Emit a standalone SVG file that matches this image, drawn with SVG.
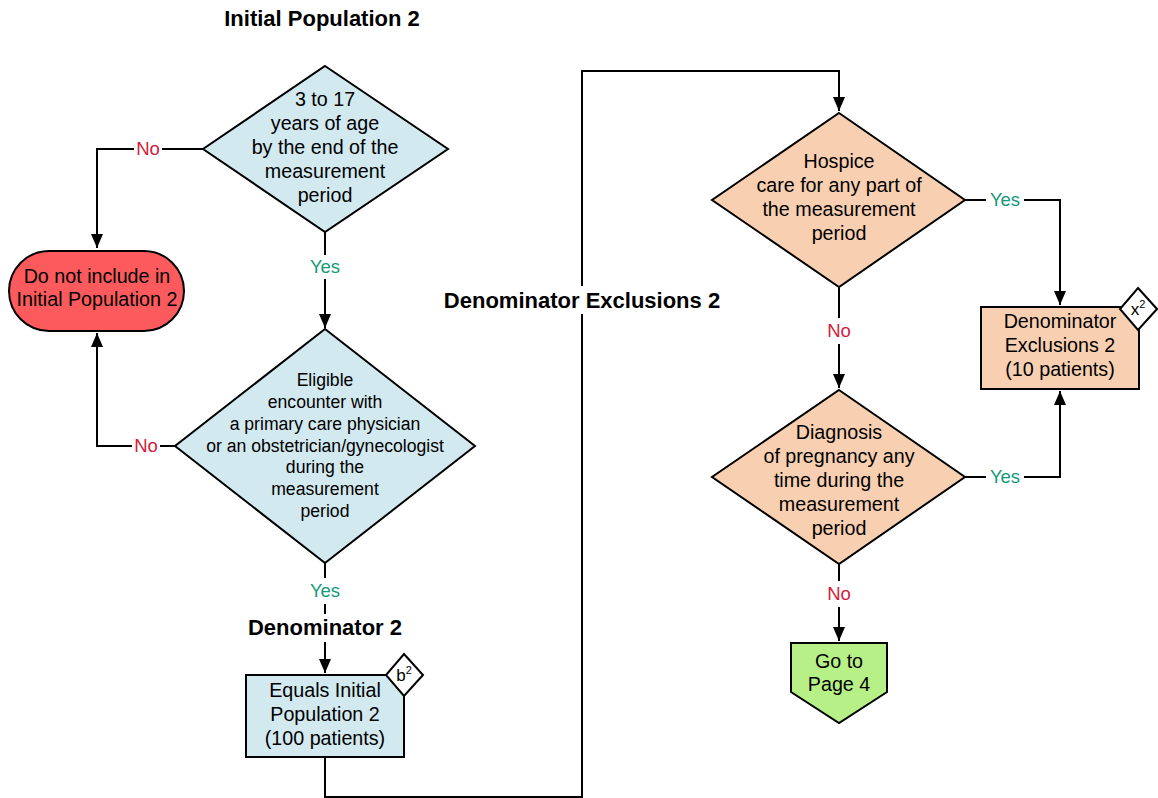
<svg xmlns="http://www.w3.org/2000/svg" width="1158" height="798" viewBox="0 0 1158 798">
<style>
text{font-family:"Liberation Sans",Arial,sans-serif;fill:#000;text-anchor:middle}
.t18{font-size:19.7px}
.t16{font-size:17.6px}
.bd{font-size:17px}
.h{font-size:22px;font-weight:bold}
.yes{fill:#129a7a;font-size:18.5px}
.no{fill:#d0213a;font-size:18.5px}
.blue{fill:#d2e9ef;stroke:#000;stroke-width:2}
.peach{fill:#f8cfb0;stroke:#000;stroke-width:2}
.red{fill:#fc5a5c;stroke:#000;stroke-width:2}
.green{fill:#b8f088;stroke:#000;stroke-width:2}
.badge{fill:#fff;stroke:#000;stroke-width:2}
.ln{fill:none;stroke:#000;stroke-width:2}
.bg{fill:#fff}
</style>
<defs>
<marker id="arr" markerUnits="userSpaceOnUse" markerWidth="14" markerHeight="16" refX="14" refY="6" orient="auto">
<path d="M0,0 L14,6 L0,12 Z" fill="#000"/>
</marker>
</defs>
<g id="connectors">
<path class="ln" d="M203,149 H97 V248" marker-end="url(#arr)"/>
<path class="ln" d="M325,232 V328" marker-end="url(#arr)"/>
<path class="ln" d="M175,446 H97 V333" marker-end="url(#arr)"/>
<path class="ln" d="M325,563 V673" marker-end="url(#arr)"/>
<path class="ln" d="M325,757 V797 H582 V71 H839 V111" marker-end="url(#arr)"/>
<path class="ln" d="M965,200 H1060 V305" marker-end="url(#arr)"/>
<path class="ln" d="M839,287 V388" marker-end="url(#arr)"/>
<path class="ln" d="M965,477 H1060 V391" marker-end="url(#arr)"/>
<path class="ln" d="M839,564 V641" marker-end="url(#arr)"/>
<rect class="bg" x="134" y="139" width="28" height="20"/>
<text class="no" x="148" y="155">No</text>
<rect class="bg" x="307" y="255" width="36" height="24"/>
<text class="yes" x="325" y="273">Yes</text>
<rect class="bg" x="132" y="436" width="28" height="20"/>
<text class="no" x="146" y="452">No</text>
<rect class="bg" x="307" y="578" width="36" height="26"/>
<text class="yes" x="325" y="597">Yes</text>
<rect class="bg" x="236" y="614" width="178" height="28"/>
<text class="h" x="325" y="635">Denominator 2</text>
<rect class="bg" x="440" y="286" width="284" height="28"/>
<text class="h" x="582" y="308">Denominator Exclusions 2</text>
<rect class="bg" x="986" y="190" width="38" height="20"/>
<text class="yes" x="1005" y="206">Yes</text>
<rect class="bg" x="825" y="318" width="28" height="26"/>
<text class="no" x="839" y="337">No</text>
<rect class="bg" x="986" y="467" width="38" height="20"/>
<text class="yes" x="1005" y="483">Yes</text>
<rect class="bg" x="825" y="581" width="28" height="26"/>
<text class="no" x="839" y="600">No</text>
</g>
<text class="h" x="322" y="26">Initial Population 2</text>
<g id="age">
<polygon class="blue" points="325,66 448,149 325,232 203,149"/>
<text class="t18"><tspan x="325" y="106">3 to 17</tspan><tspan x="325" y="130">years of age</tspan><tspan x="325" y="154">by the end of the</tspan><tspan x="325" y="178">measurement</tspan><tspan x="325" y="202">period</tspan></text>
</g>
<g id="exclude">
<rect class="red" x="9" y="251" width="175" height="80" rx="40" ry="40"/>
<text class="t18"><tspan x="97" y="283">Do not include in</tspan><tspan x="97" y="306">Initial Population 2</tspan></text>
</g>
<g id="encounter">
<polygon class="blue" points="325,329 475,446 325,563 175,446"/>
<text class="t16"><tspan x="325" y="386">Eligible</tspan><tspan x="325" y="408">encounter with</tspan><tspan x="325" y="430">a primary care physician</tspan><tspan x="325" y="452">or an obstetrician/gynecologist</tspan><tspan x="325" y="473">during the</tspan><tspan x="325" y="495">measurement</tspan><tspan x="325" y="517">period</tspan></text>
</g>
<g id="denominator">
<rect class="blue" x="246" y="675" width="158" height="82"/>
<text class="t18"><tspan x="325" y="697">Equals Initial</tspan><tspan x="325" y="721">Population 2</tspan><tspan x="325" y="745">(100 patients)</tspan></text>
<polygon class="badge" points="404,654 423,675 404,696 386,675"/>
<text class="bd" x="404" y="681">b<tspan font-size="11" dy="-7">2</tspan></text>
</g>
<g id="hospice">
<polygon class="peach" points="839,113 965,200 839,287 712,200"/>
<text class="t18"><tspan x="839" y="168">Hospice</tspan><tspan x="839" y="192">care for any part of</tspan><tspan x="839" y="216">the measurement</tspan><tspan x="839" y="240">period</tspan></text>
</g>
<g id="exclusions">
<rect class="peach" x="981" y="307" width="158" height="82"/>
<text class="t18"><tspan x="1060" y="328">Denominator</tspan><tspan x="1060" y="352">Exclusions 2</tspan><tspan x="1060" y="376">(10 patients)</tspan></text>
<polygon class="badge" points="1138,288 1157,309 1138,330 1120,309"/>
<text class="bd" x="1138" y="315">x<tspan font-size="11" dy="-7">2</tspan></text>
</g>
<g id="pregnancy">
<polygon class="peach" points="839,390 965,477 839,564 712,477"/>
<text class="t18"><tspan x="839" y="439">Diagnosis</tspan><tspan x="839" y="463">of pregnancy any</tspan><tspan x="839" y="487">time during the</tspan><tspan x="839" y="511">measurement</tspan><tspan x="839" y="535">period</tspan></text>
</g>
<g id="gotopage">
<polygon class="green" points="791,643 887,643 887,692 839,723 791,692"/>
<text class="t18"><tspan x="839" y="668">Go to</tspan><tspan x="839" y="691">Page 4</tspan></text>
</g>
</svg>
